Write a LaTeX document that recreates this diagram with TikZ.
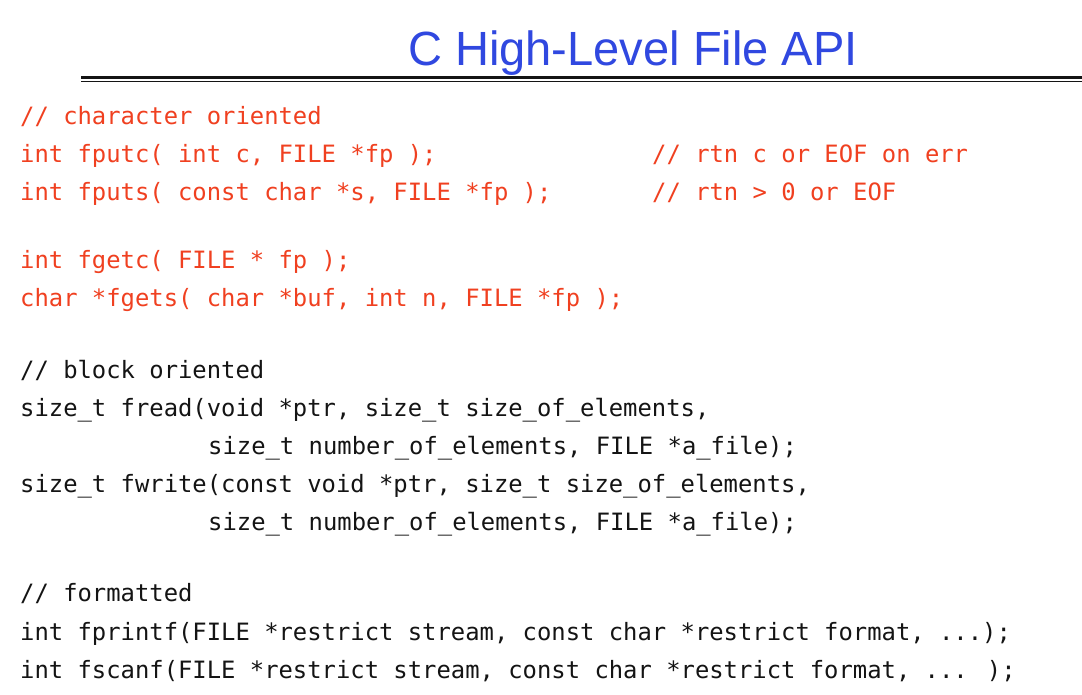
\documentclass[tikz,border=0pt]{standalone}
\usepackage{fontspec}
\setmainfont{Liberation Sans}
\newfontfamily\codefont{DejaVu Sans Mono}
\definecolor{titleblue}{HTML}{3048E0}
\definecolor{codered}{HTML}{F04020}
\definecolor{codeblack}{HTML}{141414}

\begin{document}
\begin{tikzpicture}[x=1pt,y=-1pt,
    code/.style={anchor=base west,inner sep=0pt,font=\codefont\fontsize{23.85}{24}\selectfont},
    redcode/.style={code,text=codered},
    blackcode/.style={code,text=codeblack}]
    \fill[white] (0,0) rectangle (1082,694);
    \useasboundingbox (0,0) rectangle (1082,694);
    % title and rule
    \node at (633,65)[anchor=base,inner sep=0pt,text=titleblue,font=\fontsize{48}{48}\selectfont,xscale=0.98] (title){C High-Level File API};
    \coordinate (rulel) at (81,77.5);
    \coordinate (ruler) at (1082,77.5);
    \draw[line width=2.5pt,codeblack] (rulel) -- (ruler);
    \draw[line width=1pt,codeblack] ([yshift=-4pt]rulel) -- ([yshift=-4pt]ruler);
    % character oriented
    \node at (20,124)[redcode] (chr){// character oriented};
    \node at (20,162)[redcode] (putc){int fputc( int c, FILE *fp );};
    \node at (652,162)[redcode] (putcrtn){// rtn c or EOF on err};
    \node at (20,200)[redcode] (puts){int fputs( const char *s, FILE *fp );};
    \node at (652,200)[redcode] (putsrtn){// rtn > 0 or EOF};
    \node at (20,268)[redcode] (getc){int fgetc( FILE * fp );};
    \node at (20,306)[redcode] (gets){char *fgets( char *buf, int n, FILE *fp );};
    % block oriented
    \node at (20,378)[blackcode] (blk){// block oriented};
    \node at (20,416)[blackcode] (read){size\_t fread(void *ptr, size\_t size\_of\_elements,};
    \node at (208,454)[blackcode] (readn){size\_t number\_of\_elements, FILE *a\_file);};
    \node at (20,492)[blackcode] (write){size\_t fwrite(const void *ptr, size\_t size\_of\_elements,};
    \node at (208,530)[blackcode] (writen){size\_t number\_of\_elements, FILE *a\_file);};
    % formatted
    \node at (20,601)[blackcode] (fmt){// formatted};
    \node at (20,640)[blackcode] (printf){int fprintf(FILE *restrict stream, const char *restrict format, ...);};
    \node at (20,678)[blackcode] (scanf){int fscanf(FILE *restrict stream, const char *restrict format, ... );};
\end{tikzpicture}
\end{document}
